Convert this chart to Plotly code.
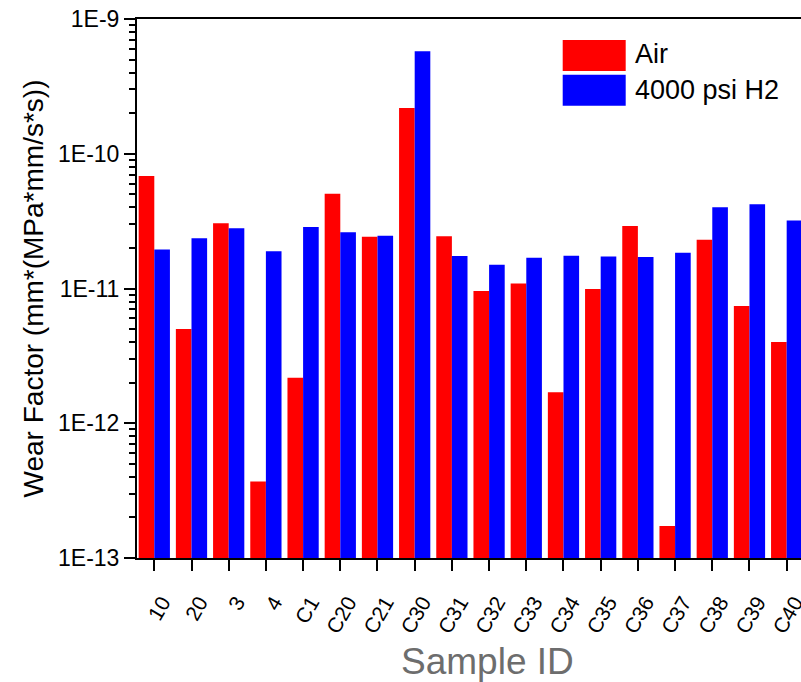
import plotly.graph_objects as go

# ---- data ----
samples = ["10", "20", "3", "4", "C1", "C20", "C21", "C30", "C31", "C32", "C33",
           "C34", "C35", "C36", "C37", "C38", "C39", "C40"]
air = [6.84e-11, 5.0e-12, 3.05e-11, 3.7e-13, 2.18e-12, 5.04e-11, 2.42e-11, 2.19e-10,
       2.44e-11, 9.6e-12, 1.09e-11, 1.70e-12, 9.93e-12, 2.91e-11, 1.73e-13, 2.30e-11,
       7.43e-12, 4.0e-12]
h2 = [1.95e-11, 2.36e-11, 2.80e-11, 1.89e-11, 2.86e-11, 2.62e-11, 2.46e-11, 5.76e-10,
      1.74e-11, 1.50e-11, 1.69e-11, 1.75e-11, 1.73e-11, 1.71e-11, 1.84e-11, 4.01e-11,
      4.22e-11, 3.20e-11]
series_names = ["Air", "4000 psi H2"]
series_colors = ["#FF0000", "#0000FF"]
ytick_vals = [1e-13, 1e-12, 1e-11, 1e-10, 1e-9]
ytick_text = ["1E-13", "1E-12", "1E-11", "1E-10", "1E-9"]

W, H = 801, 682
ML, MR, MT, MB = 137, 0, 19, 124
PW, PH = W - ML - MR, H - MT - MB

def px(x):
    return (x - ML) / PW

def py(y):
    return (H - MB - y) / PH

FONT = "Liberation Sans, Arial, sans-serif"

fig = go.Figure()
for name, vals, col in zip(series_names, [air, h2], series_colors):
    fig.add_trace(go.Bar(x=samples, y=vals, name=name, marker=dict(color=col, line=dict(width=0)),
                         showlegend=False))

minor_vals = [m * 10.0 ** e for e in range(-13, -9) for m in range(2, 10)]

fig.update_layout(
    width=W, height=H,
    margin=dict(l=ML, r=MR, t=MT, b=MB, autoexpand=False),
    paper_bgcolor="white", plot_bgcolor="white",
    barmode="group", bargap=0.16, bargroupgap=0,
    font=dict(family=FONT, color="black"),
    xaxis=dict(
        range=[-0.465, 17.385], showline=True, linecolor="black", linewidth=2, mirror=True,
        ticks="outside", ticklen=11, tickwidth=2, tickcolor="black",
        tickangle=-60, tickfont=dict(size=21, family=FONT, color="black"),
        ticklabelshift=8, ticklabelstandoff=11,
        showgrid=False, zeroline=False, automargin=False,
    ),
    yaxis=dict(
        type="log", range=[-13, -9], showline=True, linecolor="black", linewidth=2, mirror=False,
        ticks="outside", ticklen=11, tickwidth=2, tickcolor="black",
        tickvals=ytick_vals, ticktext=ytick_text,
        tickfont=dict(size=23, family=FONT, color="black"),
        minor=dict(tickvals=minor_vals, ticks="outside", ticklen=6, tickwidth=2, tickcolor="black",
                   showgrid=False),
        showgrid=False, zeroline=False, automargin=False,
        title=dict(text="Wear Factor (mm*(MPa*mm/s*s))", font=dict(size=28, family=FONT, color="black"),
                   standoff=6),
    ),
)

# x-axis title (original axis extended beyond the visible frame)
fig.add_annotation(text="Sample ID", xref="paper", yref="paper", x=px(487.5), y=py(661),
                   xanchor="center", yanchor="middle", showarrow=False,
                   font=dict(size=37, family=FONT, color="#6d6d6d"))

# legend drawn manually
leg_boxes = [(40, 71), (74.7, 105.7)]
leg_text_y = [54, 90]
for name, col, (y0, y1), ty in zip(series_names, series_colors, leg_boxes, leg_text_y):
    fig.add_shape(type="rect", xref="paper", yref="paper", x0=px(562.7), x1=px(625.7),
                  y0=py(y1), y1=py(y0), fillcolor=col, line=dict(width=0))
    fig.add_annotation(text=name, xref="paper", yref="paper", x=px(633), y=py(ty),
                       xanchor="left", yanchor="middle", showarrow=False,
                       font=dict(size=27, family=FONT, color="black"))

fig.write_html("out.html")
